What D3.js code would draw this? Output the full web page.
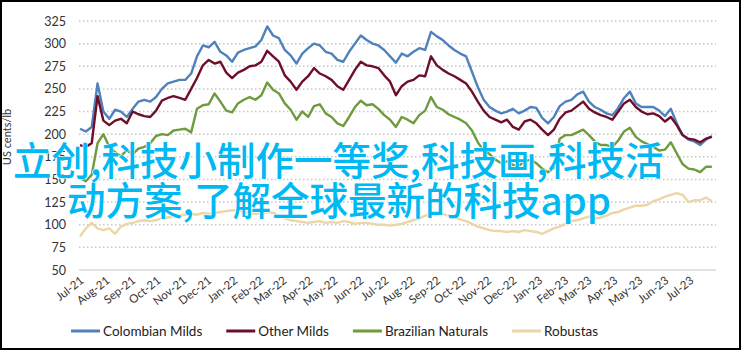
<!DOCTYPE html>
<html>
<head>
<meta charset="utf-8">
<script src="https://cdn.jsdelivr.net/npm/d3@7"></script>
<style>
  body { margin: 0; background: #fff; }
  svg { display: block; }
  text { font-family: Lato, "Liberation Sans", sans-serif; }
  .overlay text { font-family: "Noto Sans CJK SC", sans-serif; }
</style>
</head>
<body>
<svg width="743" height="352"></svg>
<script>
// weekly prices, US cents/lb, first observation on startDate
var startDate = '2021-07-01';

var tickLabels = ['Jul-21', 'Aug-21', 'Sep-21', 'Oct-21', 'Nov-21', 'Dec-21', 'Jan-22', 'Feb-22',
  'Mar-22', 'Apr-22', 'May-22', 'Jun-22', 'Jul-22', 'Aug-22', 'Sep-22', 'Oct-22', 'Nov-22',
  'Dec-22', 'Jan-23', 'Feb-23', 'Mar-23', 'Apr-23', 'May-23', 'Jun-23', 'Jul-23'];

var yTicks = [50, 75, 100, 125, 150, 175, 200, 225, 250, 275, 300, 325];

var seriesNames = ['Colombian Milds', 'Other Milds', 'Brazilian Naturals', 'Robustas'];
var seriesColors = ['#4f81bd', '#6d0f2b', '#6f9a3d', '#ead6a6'];

var colombianMilds = [206, 203, 208, 256, 225, 217, 227, 225, 219, 228,
  236, 238, 236, 241, 250, 256, 258, 260, 260, 267,
  286, 298, 296, 302, 291, 287, 280, 290, 293, 295,
  297, 304, 319, 309, 306, 293, 287, 278, 289, 295,
  300, 298, 291, 289, 282, 280, 291, 300, 309, 304,
  300, 298, 293, 286, 279, 289, 286, 291, 295, 293,
  313, 308, 304, 298, 293, 289, 286, 269, 252, 238,
  230, 226, 223, 225, 228, 223, 226, 230, 229, 218,
  212, 219, 231, 236, 238, 244, 247, 236, 230, 227,
  223, 221, 229, 240, 247, 234, 230, 230, 230, 226,
  220, 228, 212, 199, 194, 192, 188, 194, 198];

var otherMilds = [188, 186, 190, 242, 215, 210, 215, 217, 212, 225,
  222, 220, 219, 226, 237, 240, 242, 240, 238, 250,
  262, 276, 282, 278, 280, 268, 262, 268, 271, 275,
  276, 280, 292, 286, 280, 265, 258, 249, 258, 264,
  273, 267, 264, 260, 253, 249, 260, 271, 280, 276,
  275, 273, 265, 258, 243, 253, 258, 260, 265, 264,
  286, 276, 271, 267, 264, 260, 256, 247, 236, 226,
  219, 216, 213, 216, 208, 205, 214, 216, 212, 205,
  199, 205, 217, 224, 226, 231, 236, 228, 224, 221,
  219, 216, 225, 234, 238, 230, 225, 222, 223, 220,
  214, 219, 210, 199, 195, 194, 191, 195, 197];

var brazilianNaturals = [152, 148, 155, 190, 200, 186, 180, 176, 182, 178,
  184, 186, 190, 198, 200, 199, 204, 205, 206, 202,
  228, 232, 233, 245, 236, 226, 224, 234, 238, 241,
  238, 243, 257, 249, 245, 234, 227, 216, 225, 219,
  231, 233, 223, 219, 212, 209, 219, 230, 237, 232,
  233, 228, 221, 216, 208, 219, 216, 212, 221, 226,
  241, 230, 227, 222, 219, 216, 212, 204, 191, 182,
  178, 172, 168, 170, 166, 165, 170, 172, 168, 162,
  158, 163, 195, 199, 199, 202, 205, 199, 192, 188,
  188, 186, 193, 203, 207, 197, 192, 189, 186, 182,
  183, 191, 179, 167, 162, 161, 158, 164, 164];

var robustas = [87, 96, 102, 96, 94, 96, 90, 98, 101, 102,
  104, 105, 104, 105, 107, 108, 109, 110, 111, 112,
  111, 113, 112, 113, 114, 115, 116, 116, 114, 113,
  112, 113, 114, 113, 110, 107, 105, 104, 103, 102,
  103, 104, 102, 103, 102, 104, 103, 101, 102, 102,
  101, 100, 100, 99, 100, 101, 103, 105, 107, 110,
  112, 111, 112, 110, 108, 106, 104, 101, 98, 96,
  94, 93, 93, 92, 93, 92, 94, 93, 92, 90,
  93, 96, 98, 101, 104, 105, 107, 109, 107, 108,
  110, 113, 114, 117, 119, 121, 121, 122, 126, 128,
  131, 133, 135, 133, 125, 127, 127, 130, 126];

var overlayLines = ['立创,科技小制作一等奖,科技画,科技活', '动方案,了解全球最新的科技app'];

var svg = d3.select('svg');
var width = +svg.attr('width');
var height = +svg.attr('height');

var plot = { l: 79, r: 716, t: 21, b: 270 };

var parseDay = d3.timeParse('%Y-%m-%d');
var parseMonth = d3.timeParse('%b-%y');
var day0 = parseDay(startDate);
var weeks = colombianMilds.map(function(d, i) { return d3.timeDay.offset(day0, 7 * i); });
var tickDates = tickLabels.map(function(s) { return parseMonth(s); });

var xScale = d3.scaleTime()
  .domain([day0, d3.timeMonth.offset(tickDates[tickDates.length - 1], 1)])
  .range([plot.l + 1, plot.r]);
var yScale = d3.scaleLinear().domain([50, 325]).range([plot.b, plot.t]);

// outer frame
svg.append('rect')
  .attr('x', 1).attr('y', 1)
  .attr('width', width - 4).attr('height', height - 4)
  .attr('fill', 'none').attr('stroke', '#000').attr('stroke-width', 2);

// horizontal grid
svg.append('g')
  .selectAll('line')
  .data(yTicks.slice(1))
  .enter().append('line')
  .attr('x1', plot.l).attr('x2', plot.r)
  .attr('y1', function(d) { return yScale(d); })
  .attr('y2', function(d) { return yScale(d); })
  .attr('stroke', '#c8c8c8')
  .attr('stroke-width', 1.5)
  .attr('stroke-dasharray', '1.5,2.5');

// y axis labels
var yAxis = svg.append('g')
  .attr('transform', 'translate(' + (plot.l - 13) + ',0)')
  .call(d3.axisLeft(yScale).tickValues(yTicks).tickSize(0).tickPadding(0));
yAxis.select('.domain').remove();
yAxis.selectAll('text')
  .style('font-family', 'Lato, "Liberation Sans", sans-serif')
  .style('font-size', '12.5px')
  .style('fill', '#333');

// x axis
var xAxis = svg.append('g')
  .attr('transform', 'translate(0,' + plot.b + ')')
  .call(d3.axisBottom(xScale)
    .tickValues(tickDates)
    .tickFormat(function(d, i) { return tickLabels[i]; })
    .tickSize(0));
xAxis.select('.domain')
  .attr('d', 'M' + plot.l + ',0H' + plot.r)
  .attr('stroke', '#d9d9d9').attr('stroke-width', 1.5);
xAxis.selectAll('text')
  .style('font-family', 'Lato, "Liberation Sans", sans-serif')
  .style('font-size', '11.5px')
  .style('fill', '#333')
  .attr('y', 0).attr('dy', 0)
  .attr('transform', 'translate(4,12) rotate(-38)')
  .style('text-anchor', 'end');

// y axis title
svg.append('text')
  .attr('transform', 'translate(11,137) rotate(-90)')
  .attr('text-anchor', 'middle')
  .style('font-size', '11px')
  .style('fill', '#333')
  .text('US cents/lb');

// lines
var allSeries = [colombianMilds, otherMilds, brazilianNaturals, robustas];
var line = d3.line()
  .x(function(d, i) { return xScale(weeks[i]); })
  .y(function(d) { return yScale(d); });

svg.append('g')
  .selectAll('path')
  .data(allSeries)
  .enter().append('path')
  .attr('d', line)
  .attr('fill', 'none')
  .attr('stroke', function(d, i) { return seriesColors[i]; })
  .attr('stroke-width', 2.4)
  .attr('stroke-linejoin', 'round');

// legend
var legend = svg.append('g').attr('transform', 'translate(71,331)');
var lx = 0;
seriesNames.forEach(function(name, i) {
  var g = legend.append('g').attr('transform', 'translate(' + lx + ',0)');
  g.append('line')
    .attr('x1', 0).attr('x2', 29)
    .attr('stroke', seriesColors[i]).attr('stroke-width', 3);
  var t = g.append('text')
    .attr('x', 32).attr('dy', '0.35em')
    .style('font-size', '13.5px')
    .style('fill', '#222')
    .text(name);
  lx += 32 + t.node().getComputedTextLength() + 24;
});

// overlay caption
var overlay = svg.append('g').attr('class', 'overlay');
overlay.selectAll('text')
  .data(overlayLines)
  .enter().append('text')
  .attr('x', function(d, i) { return i === 0 ? 13 : 67; })
  .attr('y', function(d, i) { return 175 + i * 40; })
  .style('font-size', '38.5px')
  .style('font-weight', 500)
  .style('fill', '#00b8f2')
  .style('stroke', '#fff')
  .style('stroke-width', 1.2)
  .style('paint-order', 'stroke')
  .text(function(d) { return d; });
</script>
</body>
</html>
